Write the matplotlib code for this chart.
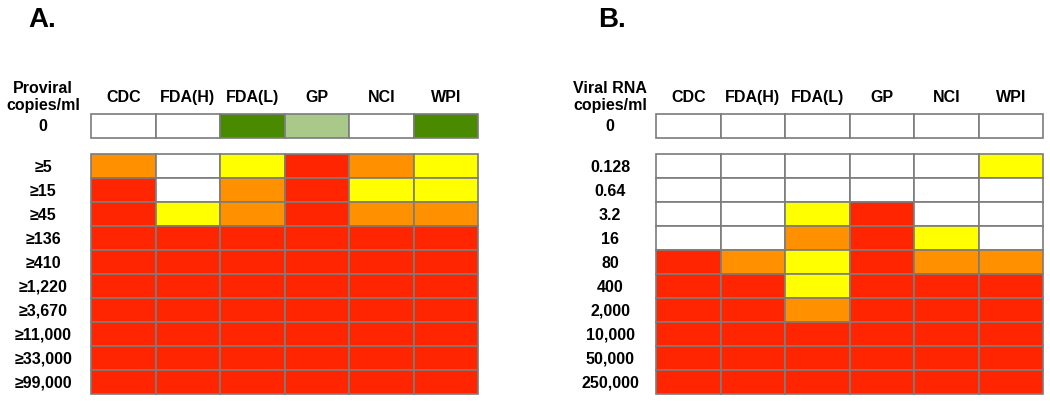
#!/usr/bin/env python3

import matplotlib
matplotlib.use('Agg')
import matplotlib.pyplot as plt
from matplotlib.patches import Rectangle

plt.rcParams['font.family'] = ['Liberation Sans', 'DejaVu Sans']

# Data
labs = ['CDC', 'FDA(H)', 'FDA(L)', 'GP', 'NCI', 'WPI']

proviral_rows = ['0', '\u22655', '\u226515', '\u226545', '\u2265136', '\u2265410',
                 '\u22651,220', '\u22653,670', '\u226511,000', '\u226533,000', '\u226599,000']
# W=white, G=dark green, L=light green, Y=yellow, O=orange, R=red
proviral_calls = ['WWGLWG',
                  'OWYROY',
                  'RWORYY',
                  'RYOROO',
                  'RRRRRR',
                  'RRRRRR',
                  'RRRRRR',
                  'RRRRRR',
                  'RRRRRR',
                  'RRRRRR',
                  'RRRRRR']

rna_rows = ['0', '0.128', '0.64', '3.2', '16', '80', '400', '2,000',
            '10,000', '50,000', '250,000']
rna_calls = ['WWWWWW',
             'WWWWWY',
             'WWWWWW',
             'WWYRWW',
             'WWORYW',
             'ROYROO',
             'RRYRRR',
             'RRORRR',
             'RRRRRR',
             'RRRRRR',
             'RRRRRR']

colors = {'W': '#ffffff', 'G': '#4a8a00', 'L': '#a9c98a',
          'Y': '#ffff00', 'O': '#ff9100', 'R': '#ff2500'}

W, H = 1050, 402
GAP = 0.67  # gap below the "0" row, in row units


def row_top(i):
    return i if i == 0 else i + GAP


def draw_panel(ax, title, rows, calls, label_x):
    nrows = len(rows)
    ax.set_xlim(0, len(labs))
    ax.set_ylim(nrows + GAP, 0)
    ax.axis('off')
    for i, row in enumerate(calls):
        y = row_top(i)
        for j, c in enumerate(row):
            ax.add_patch(Rectangle((j, y), 1, 1, facecolor=colors[c],
                                   edgecolor='#7c7c7c', linewidth=1.2,
                                   clip_on=False))
        ax.text(label_x, y + 0.5, rows[i], ha='center', va='center',
                fontsize=11.5, fontweight='bold')
    for j, l in enumerate(labs):
        ax.text(j + 0.5, -0.75, l, ha='center', va='center',
                fontsize=11.5, fontweight='bold')
    ax.text(label_x, -0.74, title, ha='center', va='center',
            fontsize=11.5, fontweight='bold', linespacing=1.2)


fig = plt.figure(figsize=(W / 100, H / 100), dpi=100)

axA = fig.add_axes([91 / W, 7 / H, 387 / W, 280 / H])
axB = fig.add_axes([656 / W, 7 / H, 387 / W, 280 / H])

draw_panel(axA, 'Proviral\ncopies/ml', proviral_rows, proviral_calls, -0.74)
draw_panel(axB, 'Viral RNA\ncopies/ml', rna_rows, rna_calls, -0.71)

fig.text(28 / W, 1 - 27 / H, 'A.', fontsize=20, fontweight='bold', va='baseline')
fig.text(598 / W, 1 - 27 / H, 'B.', fontsize=20, fontweight='bold', va='baseline')

fig.savefig('out.png', dpi=100)
